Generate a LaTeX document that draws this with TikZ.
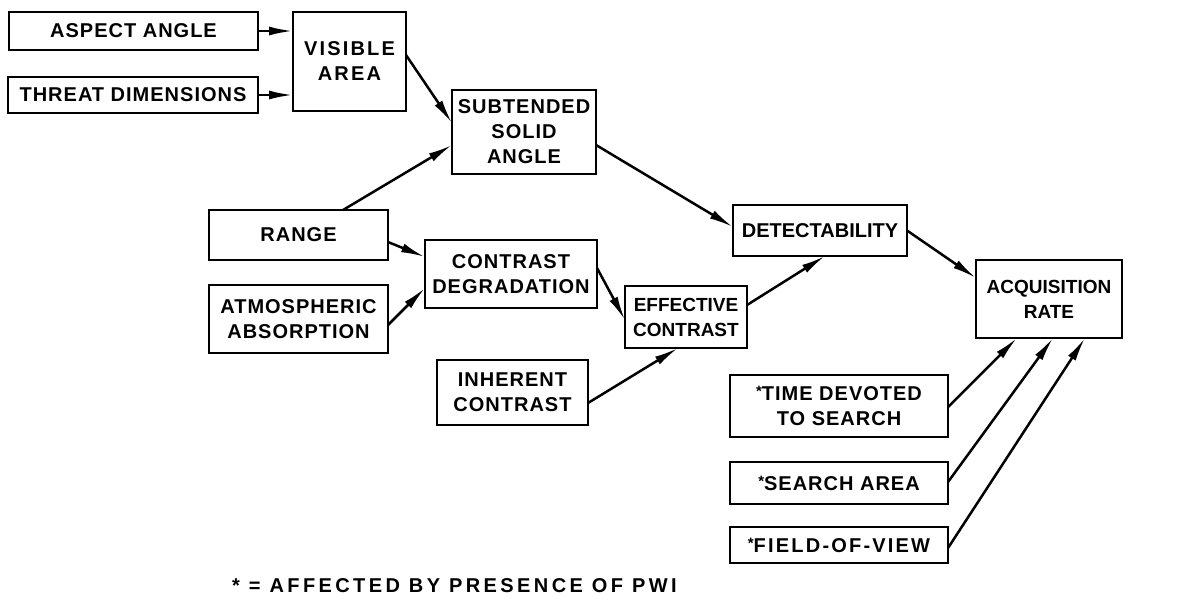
\documentclass[tikz,border=0pt]{standalone}
\usepackage{fontspec}
\newfontfamily\boxfont[LetterSpace=5]{Liberation Sans Bold}
\newfontfamily\tightfont[LetterSpace=0]{Liberation Sans Bold}
\newfontfamily\widefont[LetterSpace=11]{Liberation Sans Bold}
\newfontfamily\notefont[LetterSpace=17]{Liberation Sans Bold}
\usetikzlibrary{arrows.meta,calc}
\tikzset{
  box/.style={draw, line width=1.6pt, inner sep=0pt, outer sep=0pt, align=center,
    font=\boxfont\fontsize{20}{25}\selectfont},
  tightbox/.style={box, font=\tightfont\fontsize{19}{25}\selectfont},
  widebox/.style={box, font=\widefont\fontsize{20}{25}\selectfont},
  conn/.style={line width=2.5pt, -{Latex[length=24pt,width=9pt]}},
}
\newcommand{\astmark}{\raisebox{4pt}{\fontsize{15}{15}\selectfont *}}
\begin{document}
\begin{tikzpicture}[x=1pt,y=-1pt]
\useasboundingbox (0,0) rectangle (1185,608);
\node[box, minimum width=249pt, minimum height=38pt] (aa)  at (133.5,31) {ASPECT ANGLE};
\node[box, minimum width=250pt, minimum height=36pt] (td)  at (133,95) {THREAT DIMENSIONS};
\node[widebox, minimum width=113pt, minimum height=99pt] (va)  at (349.5,61.5) {VISIBLE\\AREA};
\node[box, minimum width=144pt, minimum height=84pt] (ssa) at (524,132) {SUBTENDED\\SOLID\\ANGLE};
\node[box, minimum width=179pt, minimum height=50pt] (rng) at (298.5,235) {RANGE};
\node[box, minimum width=179pt, minimum height=68pt] (atm) at (298.5,319) {ATMOSPHERIC\\ABSORPTION};
\node[box, minimum width=172pt, minimum height=68pt] (cd)  at (511,274) {CONTRAST\\DEGRADATION};
\node[tightbox, minimum width=122pt, minimum height=62pt] (ec)  at (686,317) {EFFECTIVE\\CONTRAST};
\node[box, minimum width=151pt, minimum height=65pt] (ic)  at (512.5,392.5) {INHERENT\\CONTRAST};
\node[tightbox, font=\tightfont\fontsize{20}{25}\selectfont, minimum width=174pt, minimum height=51pt] (det) at (820,230.5) {DETECTABILITY};
\node[tightbox, minimum width=146pt, minimum height=78pt] (acq) at (1049,299) {ACQUISITION\\RATE};
\node[box, minimum width=218pt, minimum height=62pt] (tds) at (839,406) {\astmark TIME DEVOTED\\TO SEARCH};
\node[box, minimum width=218pt, minimum height=42pt] (sa)  at (839,483) {\astmark SEARCH AREA};
\node[widebox, minimum width=218pt, minimum height=36pt] (fov) at (839,545) {\astmark FIELD-OF-VIEW};
\node[anchor=west, inner sep=0pt, font=\notefont\fontsize{20}{24}\selectfont] (note) at (232,586) {* = AFFECTED BY PRESENCE OF PWI};

\draw[conn] (aa.east) -- (aa.east -| va.west);
\draw[conn] (td.east) -- (td.east -| va.west);
\draw[conn] ($(va.north east)+(0,43)$) -- ($(ssa.north west)+(0,33)$);
\draw[conn] ($(rng.north west)+(134,0)$) -- ($(ssa.north west)+(0,55)$);
\draw[conn] ($(ssa.north east)+(0,55)$) -- ($(det.north west)+(0,22)$);
\draw[conn] ($(rng.north east)+(0,32)$) -- ($(cd.north west)+(0,17)$);
\draw[conn] ($(atm.north east)+(0,40)$) -- ($(cd.north west)+(0,48)$);
\draw[conn] ($(cd.north east)+(0,28)$) -- ($(ec.north west)+(0,34)$);
\draw[conn] ($(ic.north east)+(0,43)$) -- ($(ec.south west)+(53,0)$);
\draw[conn] ($(ec.north east)+(0,19)$) -- ($(det.south west)+(92,0)$);
\draw[conn] (det.east) -- ($(acq.north west)+(0,18)$);
\draw[conn] ($(tds.north east)+(0,32)$) -- ($(acq.south west)+(41,0)$);
\draw[conn] ($(sa.north east)+(0,20)$) -- ($(acq.south west)+(77,0)$);
\draw[conn] ($(fov.north east)+(0,21)$) -- ($(acq.south west)+(109,0)$);
\end{tikzpicture}
\end{document}
